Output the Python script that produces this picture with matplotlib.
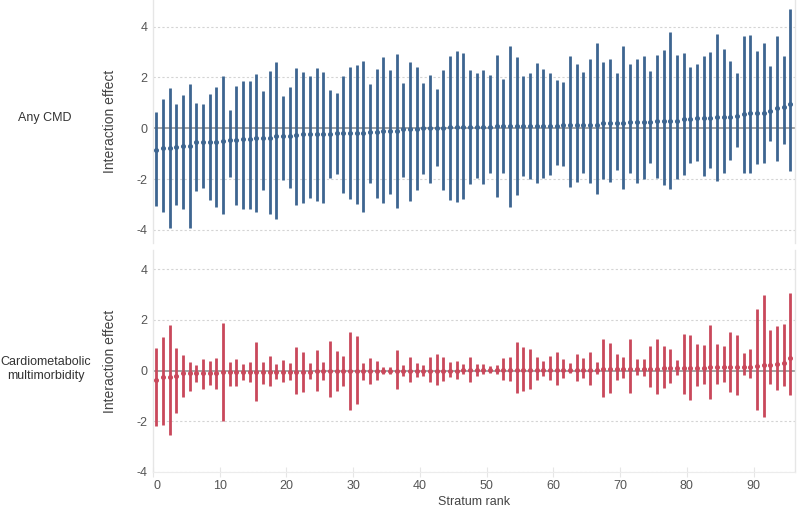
import numpy as np
import matplotlib
matplotlib.use("Agg")
import matplotlib.pyplot as plt

plt.rcParams['font.family'] = ['Liberation Sans', 'DejaVu Sans']
plt.rcParams['axes.unicode_minus'] = False

# ---- data: Any CMD ----
cmd_est = [-0.85, -0.79, -0.79, -0.73, -0.70, -0.70, -0.54, -0.54, -0.54, -0.54,
           -0.49, -0.46, -0.46, -0.43, -0.43, -0.38, -0.38, -0.38, -0.30, -0.30,
           -0.30, -0.25, -0.22, -0.22, -0.22, -0.22, -0.22, -0.17, -0.17, -0.17,
           -0.17, -0.17, -0.13, -0.13, -0.09, -0.09, -0.09, -0.05, -0.05, -0.05,
           -0.01, -0.01, -0.01, 0.00, 0.03, 0.03, 0.03, 0.03, 0.03, 0.03,
           0.03, 0.07, 0.07, 0.07, 0.07, 0.07, 0.07, 0.10, 0.10, 0.10,
           0.10, 0.12, 0.14, 0.14, 0.14, 0.14, 0.14, 0.20, 0.20, 0.20,
           0.20, 0.24, 0.24, 0.24, 0.24, 0.28, 0.28, 0.28, 0.28, 0.37,
           0.37, 0.39, 0.39, 0.39, 0.45, 0.45, 0.45, 0.49, 0.56, 0.60,
           0.60, 0.60, 0.68, 0.81, 0.85, 0.97]
cmd_hi = [0.63, 1.14, 1.57, 0.96, 1.29, 1.75, 1.00, 0.96, 1.34, 1.61,
          2.06, 0.72, 1.67, 1.86, 1.86, 2.14, 1.47, 2.27, 2.60, 1.25,
          1.61, 2.36, 2.23, 2.06, 2.36, 2.23, 1.51, 1.38, 2.06, 2.43,
          2.48, 2.65, 1.75, 2.32, 2.81, 2.28, 2.93, 1.78, 2.61, 2.40,
          1.78, 2.10, 1.54, 2.31, 2.85, 3.04, 2.97, 2.31, 2.19, 2.31,
          2.10, 2.89, 1.94, 3.22, 2.80, 2.06, 2.19, 2.56, 2.32, 2.19,
          1.90, 1.84, 2.85, 2.52, 2.23, 2.72, 3.37, 2.60, 2.72, 2.19,
          3.25, 2.52, 2.72, 2.85, 2.27, 2.89, 3.08, 3.78, 2.89, 2.98,
          2.43, 2.52, 2.85, 3.01, 3.71, 3.12, 2.65, 2.19, 3.64, 3.67,
          3.04, 3.37, 2.47, 3.64, 2.85, 4.69]
cmd_lo = [-3.08, -3.31, -3.94, -3.02, -3.19, -3.94, -2.49, -2.36, -2.82, -3.11,
          -3.39, -1.93, -3.02, -3.19, -3.19, -3.31, -2.45, -3.39, -3.57, -2.03,
          -2.36, -3.02, -2.93, -2.76, -2.86, -2.93, -1.97, -1.80, -2.56, -2.78,
          -2.98, -3.28, -2.14, -2.76, -2.95, -2.59, -3.15, -1.93, -2.87, -2.43,
          -1.80, -2.14, -1.47, -2.43, -2.82, -2.91, -2.80, -2.20, -1.97, -2.20,
          -1.77, -2.69, -1.75, -3.11, -2.62, -1.88, -2.01, -2.14, -1.97, -1.84,
          -1.43, -1.47, -2.32, -2.10, -1.77, -2.17, -2.60, -1.99, -2.10, -1.64,
          -2.40, -1.77, -2.14, -2.01, -1.35, -1.97, -2.23, -2.40, -2.01, -1.84,
          -1.35, -1.31, -1.88, -1.55, -2.07, -1.77, -1.27, -0.72, -1.75, -1.75,
          -1.42, -1.35, -0.52, -1.31, -0.62, -1.67]

# ---- data: Cardiometabolic multimorbidity ----
cm_est = [-0.37, -0.24, -0.24, -0.20, -0.10, -0.10, -0.08, -0.08, -0.08, -0.08,
          -0.04, -0.04, -0.04, -0.04, -0.04, -0.04, -0.04, -0.04, -0.04, -0.04,
          -0.04, -0.04, -0.04, -0.04, -0.01, -0.01, -0.01, 0.00, 0.00, 0.00,
          0.00, 0.00, 0.00, 0.00, 0.00, 0.00, 0.00, 0.00, 0.00, 0.00,
          0.00, 0.00, 0.00, 0.00, 0.00, 0.00, 0.02, 0.02, 0.02, 0.02,
          0.02, 0.02, 0.02, 0.02, 0.02, 0.02, 0.02, 0.02, 0.02, 0.02,
          0.02, 0.03, 0.03, 0.03, 0.03, 0.03, 0.03, 0.04, 0.04, 0.04,
          0.04, 0.05, 0.05, 0.05, 0.05, 0.05, 0.09, 0.09, 0.09, 0.09,
          0.09, 0.09, 0.09, 0.13, 0.13, 0.13, 0.13, 0.13, 0.13, 0.13,
          0.17, 0.21, 0.21, 0.25, 0.29, 0.49]
cm_hi = [0.88, 1.31, 1.80, 0.88, 0.60, 0.35, 0.20, 0.45, 0.39, 0.48,
         1.86, 0.35, 0.45, 0.24, 0.33, 1.13, 0.35, 0.58, 0.25, 0.41,
         0.29, 0.92, 0.73, 0.29, 0.81, 0.33, 1.18, 0.77, 0.58, 1.52,
         1.36, 0.29, 0.48, 0.38, 0.13, 0.13, 0.79, 0.20, 0.52, 0.29,
         0.21, 0.52, 0.66, 0.52, 0.33, 0.37, 0.26, 0.52, 0.26, 0.26,
         0.16, 0.21, 0.48, 0.52, 1.14, 0.92, 0.85, 0.52, 0.37, 0.58,
         0.73, 0.45, 0.29, 0.64, 0.48, 0.73, 0.33, 1.26, 1.10, 0.66,
         0.52, 1.23, 0.45, 0.45, 0.97, 1.26, 0.97, 0.85, 0.42, 1.43,
         1.39, 1.05, 1.01, 1.80, 1.05, 0.97, 1.51, 1.39, 0.68, 0.85,
         2.41, 2.98, 1.60, 1.76, 1.84, 3.07]
cm_lo = [-2.20, -2.16, -2.56, -1.68, -1.06, -0.80, -0.47, -0.72, -0.59, -0.72,
         -2.00, -0.63, -0.63, -0.39, -0.46, -1.22, -0.52, -0.63, -0.34, -0.47,
         -0.39, -0.92, -0.85, -0.34, -0.80, -0.39, -1.06, -0.80, -0.63, -1.55,
         -1.31, -0.37, -0.52, -0.37, -0.13, -0.13, -0.73, -0.20, -0.47, -0.24,
         -0.20, -0.46, -0.56, -0.43, -0.24, -0.33, -0.14, -0.46, -0.21, -0.14,
         -0.10, -0.13, -0.37, -0.41, -0.89, -0.79, -0.73, -0.37, -0.20, -0.37,
         -0.56, -0.28, -0.10, -0.43, -0.28, -0.56, -0.14, -1.05, -0.89, -0.39,
         -0.28, -0.89, -0.17, -0.20, -0.66, -0.93, -0.70, -0.50, -0.17, -0.93,
         -1.18, -0.63, -0.54, -1.13, -0.52, -0.47, -0.83, -0.98, -0.17, -0.30,
         -1.55, -1.83, -0.52, -0.76, -0.60, -0.98]

panel_labels = ["Any CMD", "Cardiometabolic\nmultimorbidity"]
y_ticks = [-4, -2, 0, 2, 4]
x_ticks = [0, 10, 20, 30, 40, 50, 60, 70, 80, 90]

BLUE = "#3d6590"
RED = "#c9485b"
W, H = 798, 511

fig = plt.figure(figsize=(W / 100, H / 100), dpi=100)

def px_axes(x0, y0, x1, y1):
    return fig.add_axes([x0 / W, 1 - y1 / H, (x1 - x0) / W, (y1 - y0) / H])

ax1 = px_axes(153, 0, 795, 243)
ax2 = px_axes(153, 250, 795, 472)

panels = [(ax1, cmd_est, cmd_lo, cmd_hi, BLUE, (-4.52, 5.05)),
          (ax2, cm_est, cm_lo, cm_hi, RED, (-4.0, 4.75))]

for ax, est, lo, hi, col, ylim in panels:
    x = np.arange(len(est)) + 0.5
    for y in y_ticks:
        if y != 0:
            ax.axhline(y, color="#d4d4d4", lw=0.8, ls=(0, (2, 2)), zorder=0)
    ax.axhline(0, color="#8a8a8a", lw=1.1, zorder=1)
    ax.vlines(x, lo, hi, color=col, lw=2.0, zorder=2)
    ax.plot(x, est, 'o', color=col, ms=2.6, zorder=3)
    ax.set_xlim(0, 96.2)
    ax.set_ylim(*ylim)
    ax.set_yticks(y_ticks)
    ax.set_yticklabels([str(t) for t in y_ticks])
    ax.tick_params(axis='y', length=0, pad=4, labelsize=9, labelcolor="#555555")
    ax.set_ylabel("Interaction effect", fontsize=10, color="#444444")
    # the anchor is the right side of the rotated title; centre lands near x=111
    ax.yaxis.set_label_coords((117 - 153) / 642, 0.5)
    for s in ['top', 'bottom']:
        ax.spines[s].set_visible(False)
    for s in ['left', 'right']:
        ax.spines[s].set_color("#e6e6e6")
        ax.spines[s].set_linewidth(1.0)

ax1.set_xticks([])
ax2.spines['bottom'].set_visible(True)
ax2.spines['bottom'].set_color("#ececec")
ax2.set_xticks(x_ticks)
ax2.tick_params(axis='x', direction='inout', length=7, color="#e6e6e6",
                labelsize=9, labelcolor="#555555", pad=2)
ax2.get_xticklabels()[0].set_horizontalalignment('left')
ax2.set_xlabel("Stratum rank", fontsize=9, color="#444444", labelpad=3)

fig.text(45 / W, 1 - 118 / H, panel_labels[0], ha='center', va='center',
         fontsize=9, color="#333333")
fig.text(46 / W, 1 - 369 / H, panel_labels[1], ha='center', va='center',
         fontsize=9, color="#333333", linespacing=1.3)

fig.savefig("out.png", dpi=100)
